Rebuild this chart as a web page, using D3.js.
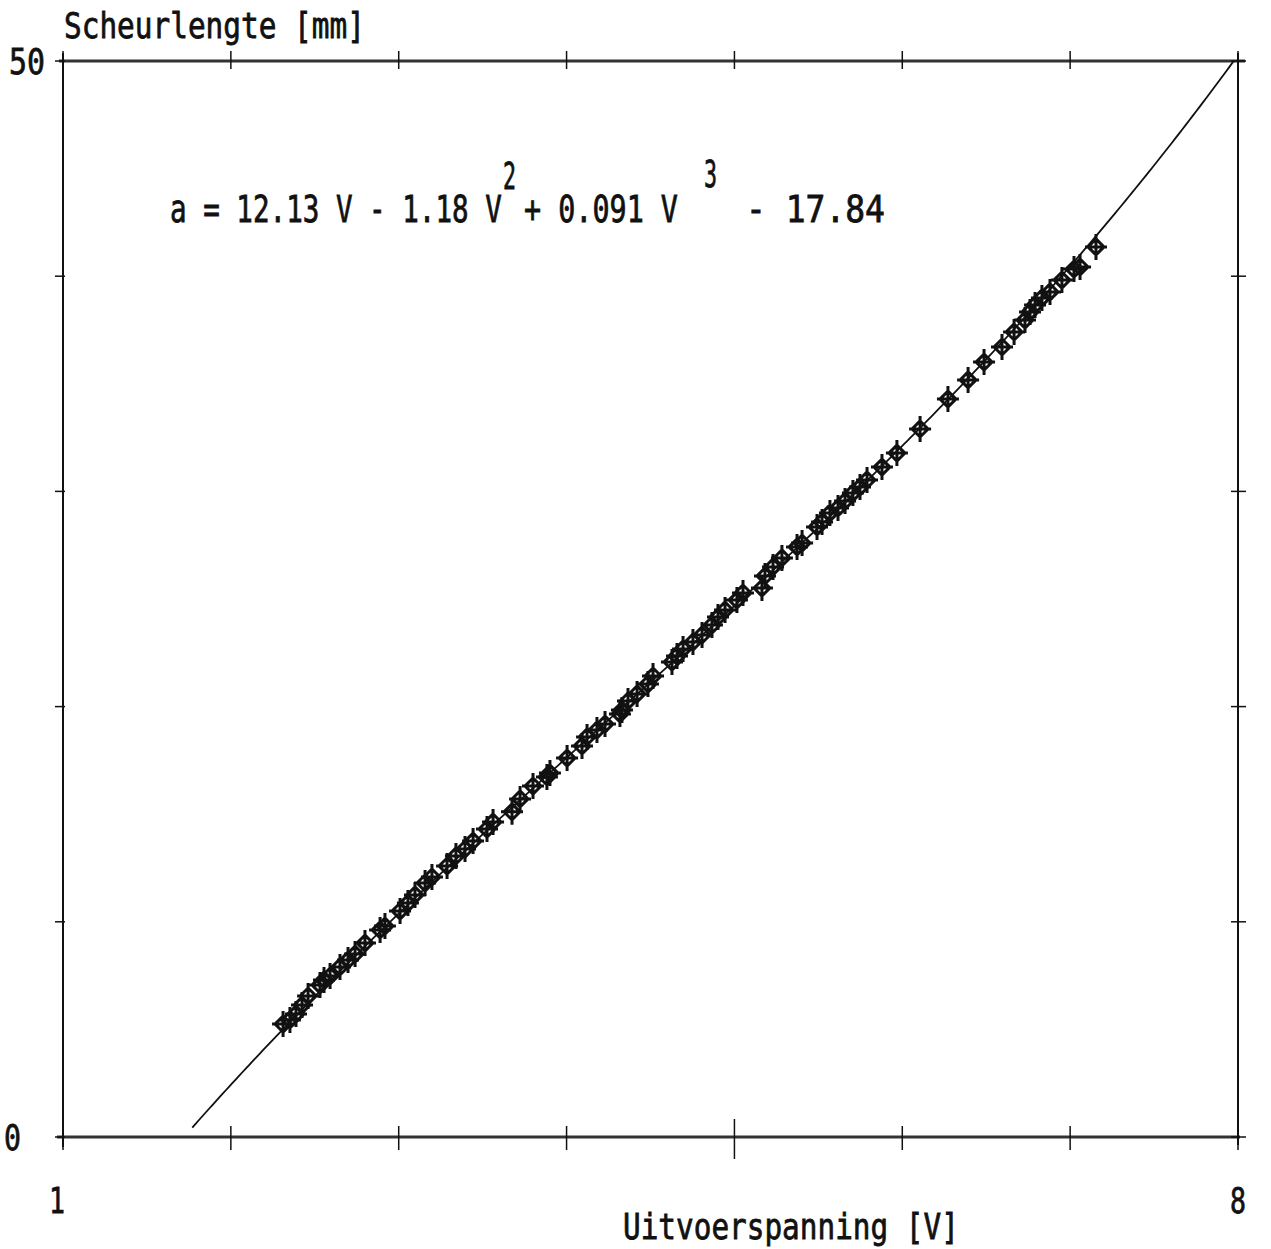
<!DOCTYPE html>
<html>
<head>
<meta charset="utf-8">
<title>Scheurlengte versus uitvoerspanning</title>
<script src="https://cdn.jsdelivr.net/npm/d3@7"></script>
<style>
  html, body { margin: 0; padding: 0; background: #fff; }
  svg { display: block; }
  .lbl { font-family: "DejaVu Sans Mono", "Liberation Mono", monospace; fill: #111;
         stroke: #111; stroke-width: 0.8; }
</style>
</head>
<body>
<svg id="chart" width="1271" height="1249"></svg>
<script>
// Measured crack length a [mm] against output voltage V [V]
const voltage = [
  2.311, 2.352, 2.388, 2.424, 2.460, 2.531, 2.555, 2.591, 2.650, 2.698,
  2.740, 2.799, 2.889, 2.918, 3.008, 3.055, 3.097, 3.157, 3.198, 3.288,
  3.341, 3.395, 3.443, 3.526, 3.562, 3.675, 3.723, 3.800, 3.883, 3.901,
  4.003, 4.092, 4.122, 4.181, 4.229, 4.318, 4.330, 4.366, 4.420, 4.485,
  4.515, 4.628, 4.658, 4.694, 4.753, 4.807, 4.866, 4.902, 4.944, 5.015,
  5.051, 5.164, 5.182, 5.230, 5.283, 5.373, 5.403, 5.492, 5.522, 5.569,
  5.617, 5.659, 5.706, 5.748, 5.790, 5.879, 5.968, 6.106, 6.272, 6.392,
  6.487, 6.594, 6.666, 6.731, 6.761, 6.791, 6.832, 6.880, 6.951, 7.023,
  7.059, 7.154
];
const crackLength = [
  5.25, 5.44, 5.72, 6.13, 6.55, 7.06, 7.30, 7.48, 7.90, 8.22,
  8.50, 9.01, 9.62, 9.80, 10.50, 10.87, 11.25, 11.80, 12.08, 12.59,
  13.06, 13.38, 13.75, 14.31, 14.64, 15.11, 15.71, 16.31, 16.73, 16.91,
  17.61, 18.17, 18.59, 18.91, 19.19, 19.66, 19.84, 20.26, 20.59, 21.05,
  21.42, 22.07, 22.35, 22.68, 23.00, 23.33, 23.79, 24.16, 24.49, 24.95,
  25.28, 25.51, 26.07, 26.49, 26.91, 27.42, 27.60, 28.35, 28.58, 29.00,
  29.23, 29.55, 29.93, 30.20, 30.53, 31.13, 31.78, 32.90, 34.29, 35.18,
  36.01, 36.71, 37.41, 37.96, 38.34, 38.66, 38.99, 39.27, 39.82, 40.33,
  40.43, 41.36
];

// Calibration fit a = c1 V + c2 V^2 + c3 V^3 + c0, as printed on the chart
const fitCoefficients = { c1: 12.13, c2: -1.18, c3: 0.091, c0: -17.84 };
const fitRange = [1.77, 8];

// Axis setup
const xDomain = [1, 8];
const yDomain = [0, 50];
const xTickValues = [1, 2, 3, 4, 5, 6, 7, 8];
const yTickValues = [0, 10, 20, 30, 40, 50];
const xTickLabels = ["1", "8"];
const yTickLabels = ["0", "50"];
const xTitle = "Uitvoerspanning [V]";
const yTitle = "Scheurlengte [mm]";

const svg = d3.select("#chart");
const plot = { left: 63, right: 1238, top: 61, bottom: 1137 };

const x = d3.scaleLinear().domain(xDomain).range([plot.left, plot.right]);
const y = d3.scaleLinear().domain(yDomain).range([plot.bottom, plot.top]);

const ink = "#111";

// Condensed plotter-style text: draw at full height, then squeeze horizontally
function plotterText(parent, str, left, baseline, width, size) {
  const t = parent.append("text").attr("class", "lbl")
    .attr("font-size", size).attr("x", 0).attr("y", 0).text(str);
  const natural = t.node().getComputedTextLength();
  t.attr("transform", `translate(${left},${baseline}) scale(${width / natural},1)`);
  return t;
}

// Frame
svg.append("line").attr("x1", plot.left - 4).attr("x2", plot.right + 7)
  .attr("y1", plot.top).attr("y2", plot.top)
  .attr("stroke", "#333").attr("stroke-width", 3);
svg.append("line").attr("x1", plot.left - 6).attr("x2", plot.right + 2)
  .attr("y1", plot.bottom).attr("y2", plot.bottom)
  .attr("stroke", "#333").attr("stroke-width", 3);
svg.append("line").attr("x1", plot.left).attr("x2", plot.left)
  .attr("y1", plot.top - 8).attr("y2", plot.bottom + 10)
  .attr("stroke", ink).attr("stroke-width", 2);
svg.append("line").attr("x1", plot.right).attr("x2", plot.right)
  .attr("y1", plot.top - 8).attr("y2", plot.bottom + 8)
  .attr("stroke", ink).attr("stroke-width", 2);

// Ticks on the bottom and top edges
const xt = svg.append("g");
xTickValues.forEach(v => {
  const px = x(v);
  const mid = v === 5;
  xt.append("line").attr("x1", px).attr("x2", px)
    .attr("y1", plot.bottom - (mid ? 18 : 11)).attr("y2", plot.bottom + (mid ? 22 : 13))
    .attr("stroke", ink).attr("stroke-width", 1.5);
  xt.append("line").attr("x1", px).attr("x2", px)
    .attr("y1", plot.top - 10).attr("y2", plot.top + 8)
    .attr("stroke", ink).attr("stroke-width", 1.5);
});

// Ticks on the left and right edges
const yt = svg.append("g");
yTickValues.forEach(v => {
  const py = y(v);
  yt.append("line").attr("x1", plot.left - 8).attr("x2", plot.left + 2)
    .attr("y1", py).attr("y2", py)
    .attr("stroke", ink).attr("stroke-width", 1.5);
  yt.append("line").attr("x1", plot.right - 7).attr("x2", plot.right + 8)
    .attr("y1", py).attr("y2", py)
    .attr("stroke", ink).attr("stroke-width", 1.5);
});

// Tick labels
const fs = 36;
plotterText(svg, xTickLabels[0], x(1) - 14, 1213, 16, fs);
plotterText(svg, xTickLabels[1], x(8) - 8, 1213, 16, fs);
plotterText(svg, yTickLabels[0], 4, y(0) + 13, 17, fs);
plotterText(svg, yTickLabels[1], 9, y(50) + 13, 36, fs);

// Axis titles
plotterText(svg, yTitle, 64, 38, 301, fs);
plotterText(svg, xTitle, 623, 1239, 336, fs);

// Fit equation
const eqY = 222;
const eqG = svg.append("g");
plotterText(eqG, "a = 12.13 V - 1.18 V", 170, eqY, 332, fs + 1);
plotterText(eqG, "2", 503, eqY - 33, 13, fs + 1);
plotterText(eqG, "+ 0.091 V", 524, eqY, 154, fs + 1);
plotterText(eqG, "3", 704, eqY - 35, 13, fs + 1);
plotterText(eqG, "- 17.84", 746, eqY, 139, fs + 1);

// Fitted curve
svg.append("clipPath").attr("id", "plotClip").append("rect")
  .attr("x", plot.left).attr("y", plot.top)
  .attr("width", plot.right - plot.left).attr("height", plot.bottom - plot.top);

const fit = v => fitCoefficients.c1 * v + fitCoefficients.c2 * v * v
  + fitCoefficients.c3 * v * v * v + fitCoefficients.c0;
const curveV = d3.range(fitRange[0], fitRange[1] + 1e-9, 0.02);
const line = d3.line().x(v => x(v)).y(v => y(fit(v)));
svg.append("path").datum(curveV)
  .attr("clip-path", "url(#plotClip)")
  .attr("d", line).attr("fill", "none")
  .attr("stroke", ink).attr("stroke-width", 1.8);

// Measurement markers: a plus sign over a small diamond
const points = voltage.map((v, i) => ({ v, a: crackLength[i] }));
const marker = "M0,-13V13M-11,0H11M0,-8L8,0L0,8L-8,0Z";
svg.append("g").selectAll("path").data(points).join("path")
  .attr("transform", d => `translate(${x(d.v)},${y(d.a)})`)
  .attr("d", marker)
  .attr("fill", "none").attr("stroke", ink).attr("stroke-width", 3);
</script>
</body>
</html>
